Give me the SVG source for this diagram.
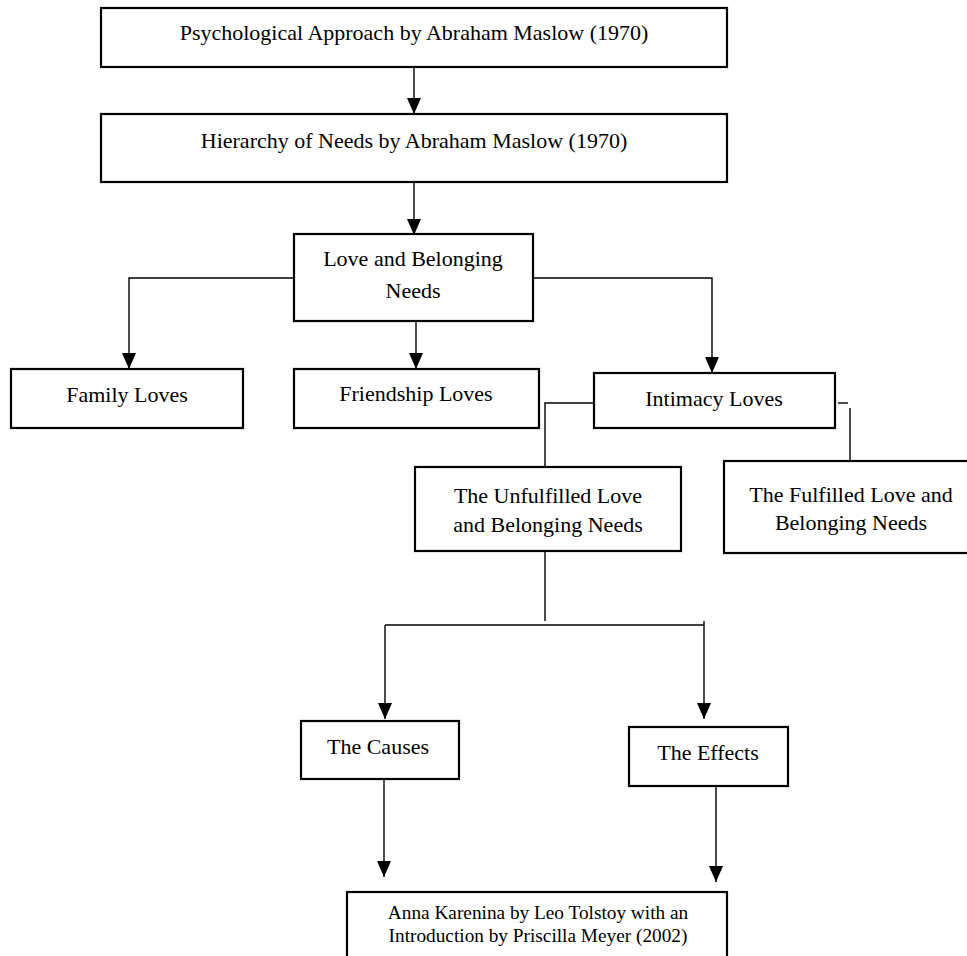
<svg xmlns="http://www.w3.org/2000/svg" width="967" height="956" viewBox="0 0 967 956">
<style>
.box{fill:#fff;stroke:#000;stroke-width:2.2}
.t{font-family:'Liberation Serif','Times New Roman',Times,serif;font-size:22px;fill:#000;text-anchor:middle}
.s{font-size:19.3px}
.c{fill:none;stroke:#000;stroke-width:1.4}
</style>
<defs>
<marker id="a" markerWidth="16" markerHeight="14" refX="16" refY="7" orient="auto" markerUnits="userSpaceOnUse">
<path d="M0,0 L16,7 L0,14 Z" fill="#000"/>
</marker>
</defs>
<rect width="967" height="956" fill="#fff"/>
<g id="connectors">
<path class="c" d="M414,67 V114" marker-end="url(#a)"/>
<path class="c" d="M414,182 V235" marker-end="url(#a)"/>
<path class="c" d="M294,278 H129 V369" marker-end="url(#a)"/>
<path class="c" d="M416,321 V369" marker-end="url(#a)"/>
<path class="c" d="M533,278 H712 V373" marker-end="url(#a)"/>
<path class="c" d="M594,403 H545 V467"/>
<path class="c" d="M838,403 H848"/>
<path class="c" d="M850,408 V461"/>
<path class="c" d="M545,551 V621"/>
<path class="c" d="M385,625 H704"/>
<path class="c" d="M704,621 V625"/>
<path class="c" d="M385,625 V719" marker-end="url(#a)"/>
<path class="c" d="M704,625 V719" marker-end="url(#a)"/>
<path class="c" d="M384,779 V877" marker-end="url(#a)"/>
<path class="c" d="M716,786 V882" marker-end="url(#a)"/>
</g>
<g id="n1"><rect class="box" x="101" y="8" width="626" height="59"/><text class="t" x="414" y="40">Psychological Approach by Abraham Maslow (1970)</text></g>
<g id="n2"><rect class="box" x="101" y="114" width="626" height="68"/><text class="t" x="414" y="148">Hierarchy of Needs by Abraham Maslow (1970)</text></g>
<g id="n3"><rect class="box" x="294" y="234" width="239" height="87"/><text class="t" x="413" y="266">Love and Belonging</text><text class="t" x="413" y="298">Needs</text></g>
<g id="n4"><rect class="box" x="11" y="369" width="232" height="59"/><text class="t" x="127" y="402">Family Loves</text></g>
<g id="n5"><rect class="box" x="294" y="369" width="245" height="59"/><text class="t" x="416" y="401">Friendship Loves</text></g>
<g id="n6"><rect class="box" x="594" y="373" width="241" height="55"/><text class="t" x="714" y="406">Intimacy Loves</text></g>
<g id="n7"><rect class="box" x="415" y="467" width="266" height="84"/><text class="t" x="548" y="503">The Unfulfilled Love</text><text class="t" x="548" y="532">and Belonging Needs</text></g>
<g id="n8"><rect class="box" x="724" y="461" width="250" height="92"/><text class="t" x="851" y="502">The Fulfilled Love and</text><text class="t" x="851" y="530">Belonging Needs</text></g>
<g id="n9"><rect class="box" x="301" y="721" width="158" height="58"/><text class="t" x="378" y="754">The Causes</text></g>
<g id="n10"><rect class="box" x="629" y="727" width="159" height="59"/><text class="t" x="708" y="760">The Effects</text></g>
<g id="n11"><rect class="box" x="347" y="892" width="380" height="80"/><text class="t s" x="538" y="919">Anna Karenina by Leo Tolstoy with an</text><text class="t s" x="538" y="942">Introduction by Priscilla Meyer (2002)</text></g>
</svg>
